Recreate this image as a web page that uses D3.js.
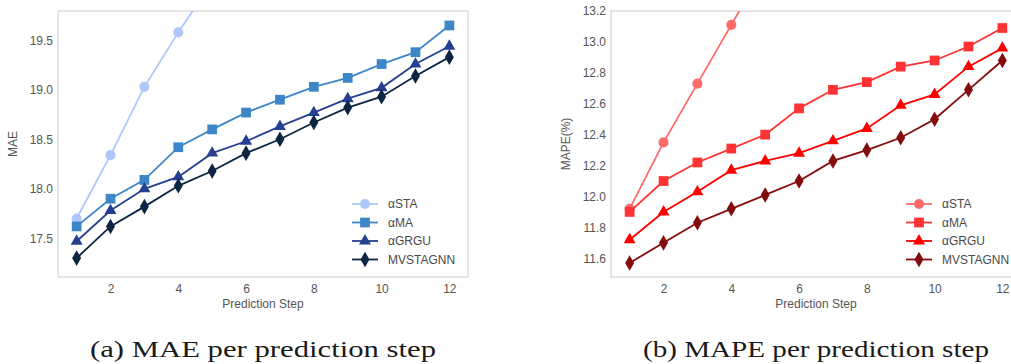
<!DOCTYPE html>
<html>
<head>
<meta charset="utf-8">
<script src="https://cdn.jsdelivr.net/npm/d3@7"></script>
<style>
  body { margin: 0; background: #fff; }
  svg { display: block; }
  text { font-family: "Liberation Sans", Arial, sans-serif; }
</style>
</head>
<body>
<div id="chart"></div>
<script>
const steps = [1, 2, 3, 4, 5, 6, 7, 8, 9, 10, 11, 12];
const xTicks = [2, 4, 6, 8, 10, 12];
const seriesNames = ['αSTA', 'αMA', 'αGRGU', 'MVSTAGNN'];

// MAE per step (αSTA leaves the plot after step 5)
const maeSTA = [17.70, 18.34, 19.03, 19.58, 20.09];
const maeMA = [17.62, 17.90, 18.09, 18.42, 18.60, 18.77, 18.90, 19.03, 19.12, 19.26, 19.38, 19.65];
const maeGRGU = [17.47, 17.78, 18.00, 18.12, 18.36, 18.48, 18.63, 18.77, 18.91, 19.02, 19.26, 19.44];
const maeOurs = [17.30, 17.62, 17.82, 18.03, 18.18, 18.36, 18.50, 18.67, 18.82, 18.93, 19.14, 19.33];
const maeTicks = [17.5, 18.0, 18.5, 19.0, 19.5];

// MAPE per step
const mapeSTA = [11.92, 12.35, 12.73, 13.11, 13.49];
const mapeMA = [11.90, 12.10, 12.22, 12.31, 12.40, 12.57, 12.69, 12.74, 12.84, 12.88, 12.97, 13.09];
const mapeGRGU = [11.72, 11.90, 12.03, 12.17, 12.23, 12.28, 12.36, 12.44, 12.59, 12.66, 12.84, 12.96];
const mapeOurs = [11.57, 11.70, 11.83, 11.92, 12.01, 12.10, 12.23, 12.30, 12.38, 12.50, 12.69, 12.88];
const mapeTicks = [11.6, 11.8, 12.0, 12.2, 12.4, 12.6, 12.8, 13.0, 13.2];

const W = 1011, H = 364;
const svg = d3.select('#chart').append('svg')
  .attr('width', W)
  .attr('height', H);

const symbols = [d3.symbolCircle, d3.symbolSquare, d3.symbolTriangle, d3.symbolDiamond];
const symSizes = [80, 95, 62, 70];

function drawPanel(opt) {
  const { left, top, width, height } = opt;
  const g = svg.append('g').attr('transform', `translate(${left},${top})`);

  const x = d3.scaleLinear().domain([0.45, 12.55]).range([0, width]);
  const y = d3.scaleLinear().domain(opt.yDomain).range([height, 0]);

  const clipId = 'clip-' + opt.id;
  g.append('clipPath').attr('id', clipId)
    .append('rect').attr('width', width).attr('height', height);

  // frame
  g.append('rect')
    .attr('width', width).attr('height', height)
    .attr('fill', '#fff').attr('stroke', '#d4d4d4').attr('stroke-width', 1.2);

  // axes (labels only, no tick marks)
  const yAxis = g.append('g')
    .call(d3.axisLeft(y).tickValues(opt.yTicks).tickFormat(d3.format('.1f')).tickSize(0).tickPadding(5));
  const xAxis = g.append('g')
    .attr('transform', `translate(0,${height})`)
    .call(d3.axisBottom(x).tickValues(xTicks).tickSize(0).tickPadding(7));
  [xAxis, yAxis].forEach(a => {
    a.select('.domain').remove();
    a.selectAll('text').attr('fill', '#555').style('font-size', '12px');
  });

  g.append('text')
    .attr('x', width / 2).attr('y', height + 31)
    .attr('text-anchor', 'middle')
    .attr('fill', '#555').style('font-size', '12px')
    .text('Prediction Step');

  g.append('text')
    .attr('transform', `translate(${opt.yLabelX},${height / 2}) rotate(-90)`)
    .attr('text-anchor', 'middle')
    .attr('fill', '#555').style('font-size', '12px')
    .text(opt.yLabel);

  const line = d3.line().x((d, i) => x(steps[i])).y(d => y(d));
  const plot = g.append('g').attr('clip-path', `url(#${clipId})`);

  opt.series.forEach((vals, k) => {
    plot.append('path')
      .datum(vals)
      .attr('fill', 'none')
      .attr('stroke', opt.colors[k])
      .attr('stroke-width', 1.8)
      .attr('d', line);
    plot.selectAll('.m' + k)
      .data(vals)
      .enter().append('path')
      .attr('transform', (d, i) => `translate(${x(steps[i])},${y(d)})`)
      .attr('d', d3.symbol().type(symbols[k]).size(symSizes[k]))
      .attr('fill', opt.colors[k]);
  });

  // legend
  const lg = g.append('g').attr('transform', `translate(${opt.legendX},${opt.legendY})`);
  seriesNames.forEach((name, k) => {
    const row = lg.append('g').attr('transform', `translate(0,${k * 18.5})`);
    row.append('line')
      .attr('x1', 0).attr('x2', 26)
      .attr('stroke', opt.colors[k]).attr('stroke-width', 1.8);
    row.append('path')
      .attr('transform', 'translate(13,0)')
      .attr('d', d3.symbol().type(symbols[k]).size(symSizes[k]))
      .attr('fill', opt.colors[k]);
    row.append('text')
      .attr('x', 36).attr('y', 4)
      .attr('fill', '#4a4a4a').style('font-size', '12px')
      .text(name);
  });

  // caption
  svg.append('text')
    .attr('x', left + width / 2).attr('y', 357)
    .attr('text-anchor', 'middle')
    .attr('textLength', 346).attr('lengthAdjust', 'spacingAndGlyphs')
    .style('font-family', '"Liberation Serif", "Times New Roman", serif')
    .style('font-size', '24px')
    .attr('fill', '#1a1a1a')
    .text(opt.caption);
}

drawPanel({
  id: 'mae', left: 58, top: 11, width: 410, height: 266,
  yDomain: [17.109, 19.796], yTicks: maeTicks,
  yLabel: 'MAE', yLabelX: -41,
  series: [maeSTA, maeMA, maeGRGU, maeOurs],
  colors: ['#aec7fa', '#3d86c8', '#25408f', '#0b2542'],
  legendX: 294, legendY: 193,
  caption: '(a) MAE per prediction step'
});

drawPanel({
  id: 'mape', left: 611, top: 11, width: 410, height: 266,
  yDomain: [11.479, 13.2], yTicks: mapeTicks,
  yLabel: 'MAPE(%)', yLabelX: -41,
  series: [mapeSTA, mapeMA, mapeGRGU, mapeOurs],
  colors: ['#ff6b6b', '#ff3333', '#ff0000', '#850c0c'],
  legendX: 295, legendY: 193,
  caption: '(b) MAPE per prediction step'
});
</script>
</body>
</html>
